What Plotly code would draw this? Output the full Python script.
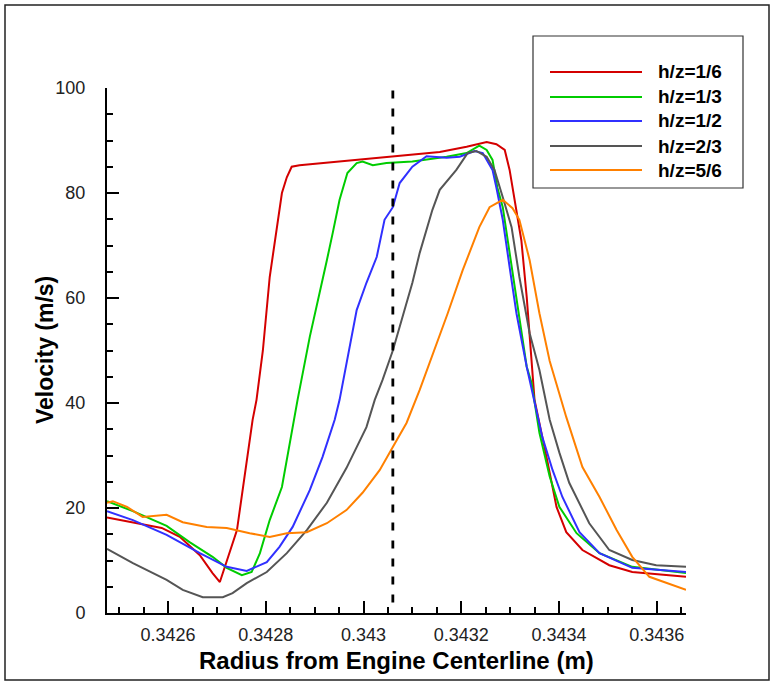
import plotly.graph_objects as go

# ---------------- data ----------------
series_names = ["h/z=1/6", "h/z=1/3", "h/z=1/2", "h/z=2/3", "h/z=5/6"]
series_colors = ["#d40000", "#00cc00", "#3030ff", "#555555", "#ff8000"]

x_h16 = [0.342475, 0.342587, 0.342624, 0.342665, 0.342691, 0.342706, 0.342741, 0.342761,
         0.342773, 0.342781, 0.342794, 0.342808, 0.342822, 0.342833, 0.342843, 0.342853,
         0.342869, 0.342951, 0.343060, 0.343156, 0.343211, 0.343252, 0.343272, 0.343289,
         0.343299, 0.343313, 0.343323, 0.343334, 0.343344, 0.343350, 0.343377, 0.343395,
         0.343415, 0.343448, 0.343503, 0.343550, 0.343660]
y_h16 = [18.2, 16.2, 14.5, 11.0, 7.6, 5.9, 15.8, 29.0,
         36.8, 40.6, 50.0, 64.0, 73.0, 80.0, 83.0, 85.0,
         85.3, 86.0, 87.0, 87.8, 88.8, 89.7, 89.3, 88.2,
         84.4, 76.8, 71.0, 60.2, 48.0, 40.6, 28.6, 20.2,
         15.4, 12.0, 9.1, 7.8, 6.9]

x_h13 = [0.342475, 0.342528, 0.342597, 0.342644, 0.342691, 0.342720, 0.342751, 0.342771,
         0.342788, 0.342808, 0.342833, 0.342853, 0.342865, 0.342890, 0.342906, 0.342925,
         0.342937, 0.342951, 0.342967, 0.342986, 0.342998, 0.343019, 0.343047, 0.343100,
         0.343170, 0.343211, 0.343237, 0.343252, 0.343264, 0.343274, 0.343285, 0.343299,
         0.343313, 0.343334, 0.343344, 0.343360, 0.343381, 0.343401, 0.343436, 0.343483,
         0.343550, 0.343660]
y_h13 = [21.3, 19.4, 16.6, 13.5, 10.7, 8.6, 7.2, 7.8,
         11.4, 17.7, 24.0, 34.9, 40.6, 52.6, 59.0, 67.2,
         72.4, 78.7, 83.8, 85.7, 86.0, 85.3, 85.7, 86.0,
         86.9, 87.6, 89.0, 88.2, 86.3, 81.0, 77.3, 68.6,
         59.0, 46.9, 43.8, 34.3, 26.0, 20.2, 15.2, 11.4,
         8.8, 7.6]

x_h12 = [0.342475, 0.342528, 0.342597, 0.342665, 0.342720, 0.342761, 0.342802, 0.342828,
         0.342855, 0.342890, 0.342916, 0.342941, 0.342951, 0.342965, 0.342986, 0.343006,
         0.343027, 0.343043, 0.343060, 0.343074, 0.343100, 0.343129, 0.343170, 0.343197,
         0.343227, 0.343244, 0.343264, 0.343272, 0.343285, 0.343299, 0.343313, 0.343334,
         0.343366, 0.343387, 0.343407, 0.343442, 0.343483, 0.343550, 0.343660]
y_h12 = [19.4, 17.7, 14.9, 11.4, 8.8, 8.0, 9.7, 12.6,
         16.4, 23.4, 29.7, 36.8, 40.6, 47.6, 57.7, 62.9,
         67.8, 74.9, 77.3, 81.9, 85.0, 87.0, 86.7, 86.9,
         88.0, 87.6, 84.4, 81.0, 74.9, 65.9, 57.1, 46.9,
         33.5, 27.2, 22.1, 15.4, 11.4, 8.6, 7.8]

x_h23 = [0.342475, 0.342528, 0.342597, 0.342630, 0.342671, 0.342712, 0.342732, 0.342761,
         0.342802, 0.342843, 0.342884, 0.342925, 0.342965, 0.343006, 0.343023, 0.343039,
         0.343060, 0.343074, 0.343100, 0.343115, 0.343141, 0.343156, 0.343190, 0.343213,
         0.343231, 0.343252, 0.343268, 0.343285, 0.343303, 0.343319, 0.343340, 0.343360,
         0.343381, 0.343401, 0.343421, 0.343462, 0.343503, 0.343550, 0.343599, 0.343660]
y_h23 = [12.2, 9.5, 6.3, 4.4, 3.0, 3.0, 3.8, 5.7,
         7.8, 11.4, 15.8, 21.0, 27.6, 35.4, 40.6, 44.4,
         50.0, 54.5, 62.9, 68.6, 76.8, 80.6, 84.4, 87.6,
         88.0, 86.9, 84.4, 79.2, 73.5, 64.0, 53.3, 46.3,
         36.8, 30.5, 24.8, 17.1, 12.0, 10.1, 9.1, 8.8]

x_h56 = [0.342475, 0.342487, 0.342516, 0.342548, 0.342597, 0.342630, 0.342679, 0.342720,
         0.342767, 0.342808, 0.342843, 0.342884, 0.342925, 0.342965, 0.342998, 0.343033,
         0.343060, 0.343088, 0.343115, 0.343135, 0.343172, 0.343203, 0.343237, 0.343258,
         0.343285, 0.343305, 0.343319, 0.343340, 0.343360, 0.343381, 0.343415, 0.343448,
         0.343483, 0.343518, 0.343550, 0.343585, 0.343660]
y_h56 = [21.0, 21.3, 20.2, 18.3, 18.7, 17.3, 16.4, 16.2,
         15.2, 14.5, 15.2, 15.4, 17.1, 19.6, 22.9, 27.2,
         31.6, 36.2, 42.5, 47.5, 57.0, 65.3, 73.5, 77.3,
         78.7, 77.1, 74.9, 67.2, 57.1, 48.0, 37.3, 27.8,
         22.1, 15.8, 10.7, 6.9, 4.4]

series_x = [x_h16, x_h13, x_h12, x_h23, x_h56]
series_y = [y_h16, y_h13, y_h12, y_h23, y_h56]

# vertical dashed reference line
dashed_x = [0.34306, 0.34306]
dashed_y = [2.0, 100.0]

x_tick_vals = [0.3426, 0.3428, 0.3430, 0.3432, 0.3434, 0.3436]
x_tick_text = ["0.3426", "0.3428", "0.343", "0.3432", "0.3434", "0.3436"]
y_tick_vals = [0, 20, 40, 60, 80, 100]
y_tick_text = ["0", "20", "40", "60", "80", "100"]
x_range = [0.342475, 0.34366]
y_range = [0, 100]

x_title = "Radius from Engine Centerline (m)"
y_title = "Velocity (m/s)"

# ---------------- layout geometry (pixels) ----------------
W, H = 774, 689
ML, MR, MT, MB = 107, 88, 88, 76
PW, PH = W - ML - MR, H - MT - MB


def px(xp):
    return (xp - ML) / PW


def py(yp):
    return (H - MB - yp) / PH


fig = go.Figure()

for name, xs, ys, col in zip(series_names, series_x, series_y, series_colors):
    fig.add_trace(go.Scatter(x=xs, y=ys, mode="lines", name=name,
                             line=dict(color=col, width=2), showlegend=False))

fig.add_trace(go.Scatter(x=dashed_x, y=dashed_y, mode="lines", showlegend=False,
                         line=dict(color="black", width=2.8, dash="8px,10px")))

shapes = []
annotations = []

# outer frame
shapes.append(dict(type="rect", xref="paper", yref="paper",
                   x0=px(5), x1=px(769), y0=py(680), y1=py(5),
                   line=dict(color="#222222", width=1.5), layer="below"))

# legend box (manual)
shapes.append(dict(type="rect", xref="paper", yref="paper",
                   x0=px(533), x1=px(743), y0=py(188), y1=py(36),
                   line=dict(color="#333333", width=1.2), fillcolor="white"))
row_y = [72, 97, 121, 146, 170]
for name, col, ry in zip(series_names, series_colors, row_y):
    shapes.append(dict(type="line", xref="paper", yref="paper",
                       x0=px(550), x1=px(642), y0=py(ry), y1=py(ry),
                       line=dict(color=col, width=2)))
    annotations.append(dict(xref="paper", yref="paper", x=px(656), y=py(ry),
                            text="<b>%s</b>" % name, showarrow=False,
                            xanchor="left", yanchor="middle",
                            font=dict(family="Liberation Sans", size=19, color="black")))

# axis titles
annotations.append(dict(xref="paper", yref="paper", x=px((ML + W - MR) / 2), y=py(660),
                        text="<b>%s</b>" % x_title, showarrow=False,
                        xanchor="center", yanchor="middle",
                        font=dict(family="Liberation Sans", size=24, color="black")))
annotations.append(dict(xref="paper", yref="paper", x=px(45), y=py(350),
                        text="<b>%s</b>" % y_title, showarrow=False, textangle=-90,
                        xanchor="center", yanchor="middle",
                        font=dict(family="Liberation Sans", size=23, color="black")))

fig.update_layout(
    width=W, height=H,
    margin=dict(l=ML, r=MR, t=MT, b=MB, autoexpand=False),
    paper_bgcolor="white", plot_bgcolor="white",
    shapes=shapes, annotations=annotations,
    font=dict(family="Liberation Sans", color="#222222"),
)

fig.update_xaxes(
    range=x_range, tickmode="array", tickvals=x_tick_vals, ticktext=x_tick_text,
    ticks="inside", ticklen=12, tickwidth=2.2, tickcolor="black",
    minor=dict(dtick=0.00005, tick0=0.3426, ticks="inside", ticklen=6, tickwidth=1.5,
               tickcolor="black", showgrid=False),
    showline=True, linecolor="black", linewidth=2, mirror=False,
    showgrid=False, zeroline=False,
    tickfont=dict(family="Liberation Sans", size=18, color="#222222"),
    ticklabelstandoff=4,
)
fig.update_yaxes(
    range=y_range, tickmode="array", tickvals=y_tick_vals, ticktext=y_tick_text,
    ticks="inside", ticklen=12, tickwidth=2.2, tickcolor="black",
    minor=dict(dtick=5, tick0=0, ticks="inside", ticklen=6, tickwidth=1.5,
               tickcolor="black", showgrid=False),
    showline=True, linecolor="black", linewidth=2, mirror=False,
    showgrid=False, zeroline=False,
    tickfont=dict(family="Liberation Sans", size=18, color="#222222"),
    ticklabelstandoff=16,
)

fig.write_html("out.html")
